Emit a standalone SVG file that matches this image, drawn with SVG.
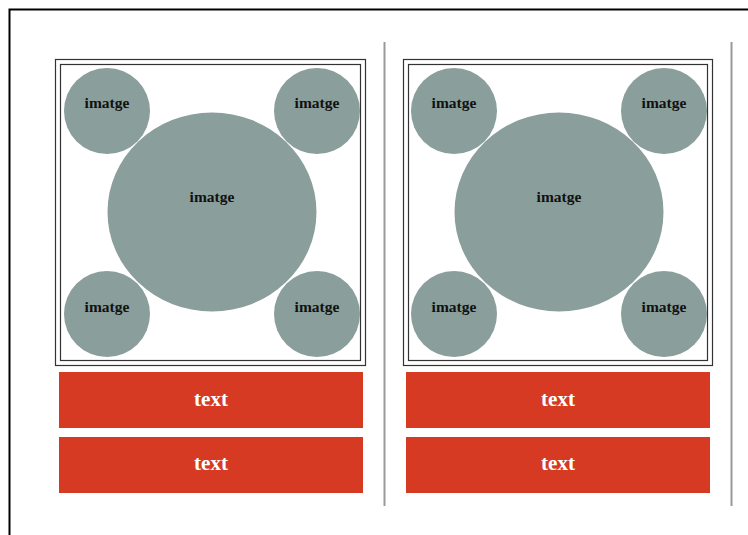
<svg xmlns="http://www.w3.org/2000/svg" width="748" height="535" viewBox="0 0 748 535">
<style>
.frame{fill:none;stroke:#333;stroke-width:1.2}
.circ{fill:#8a9e9b}
.lbl{font-family:"Liberation Serif",serif;font-weight:bold;font-size:15.5px;fill:#111;text-anchor:middle}
.bar{fill:#d63a22}
.btxt{font-family:"Liberation Serif",serif;font-weight:bold;font-size:21px;fill:#fff;text-anchor:middle}
.div{stroke:#999;stroke-width:2}
</style>
<rect x="0" y="0" width="748" height="535" fill="#fff"/>
<rect x="9.5" y="9.5" width="800" height="600" fill="none" stroke="#000" stroke-width="2"/>
<g id="dividers">
<line class="div" x1="384.5" y1="42" x2="384.5" y2="506"/>
<line class="div" x1="731.5" y1="42" x2="731.5" y2="506"/>
</g>
<g id="panel1">
<rect class="frame" x="55.5" y="59.5" width="310" height="306"/>
<rect class="frame" x="60.5" y="64.5" width="300" height="296"/>
<ellipse class="circ" cx="212" cy="212" rx="104.5" ry="99.5"/>
<circle class="circ" cx="107" cy="111" r="43"/>
<circle class="circ" cx="317" cy="111" r="43"/>
<circle class="circ" cx="107" cy="314" r="43"/>
<circle class="circ" cx="317" cy="314" r="43"/>
<text class="lbl" x="107" y="108">imatge</text>
<text class="lbl" x="317" y="108">imatge</text>
<text class="lbl" x="212" y="202">imatge</text>
<text class="lbl" x="107" y="312">imatge</text>
<text class="lbl" x="317" y="312">imatge</text>
</g>
<g id="bar1a"><rect class="bar" x="59" y="372" width="304" height="56"/><text class="btxt" x="211" y="406">text</text></g>
<g id="bar1b"><rect class="bar" x="59" y="437" width="304" height="56"/><text class="btxt" x="211" y="470">text</text></g>
<g id="panel2">
<rect class="frame" x="403.5" y="59.5" width="309" height="306"/>
<rect class="frame" x="408.5" y="64.5" width="299" height="296"/>
<ellipse class="circ" cx="559" cy="212" rx="104.5" ry="99.5"/>
<circle class="circ" cx="454" cy="111" r="43"/>
<circle class="circ" cx="664" cy="111" r="43"/>
<circle class="circ" cx="454" cy="314" r="43"/>
<circle class="circ" cx="664" cy="314" r="43"/>
<text class="lbl" x="454" y="108">imatge</text>
<text class="lbl" x="664" y="108">imatge</text>
<text class="lbl" x="559" y="202">imatge</text>
<text class="lbl" x="454" y="312">imatge</text>
<text class="lbl" x="664" y="312">imatge</text>
</g>
<g id="bar2a"><rect class="bar" x="406" y="372" width="304" height="56"/><text class="btxt" x="558" y="406">text</text></g>
<g id="bar2b"><rect class="bar" x="406" y="437" width="304" height="56"/><text class="btxt" x="558" y="470">text</text></g>
</svg>
